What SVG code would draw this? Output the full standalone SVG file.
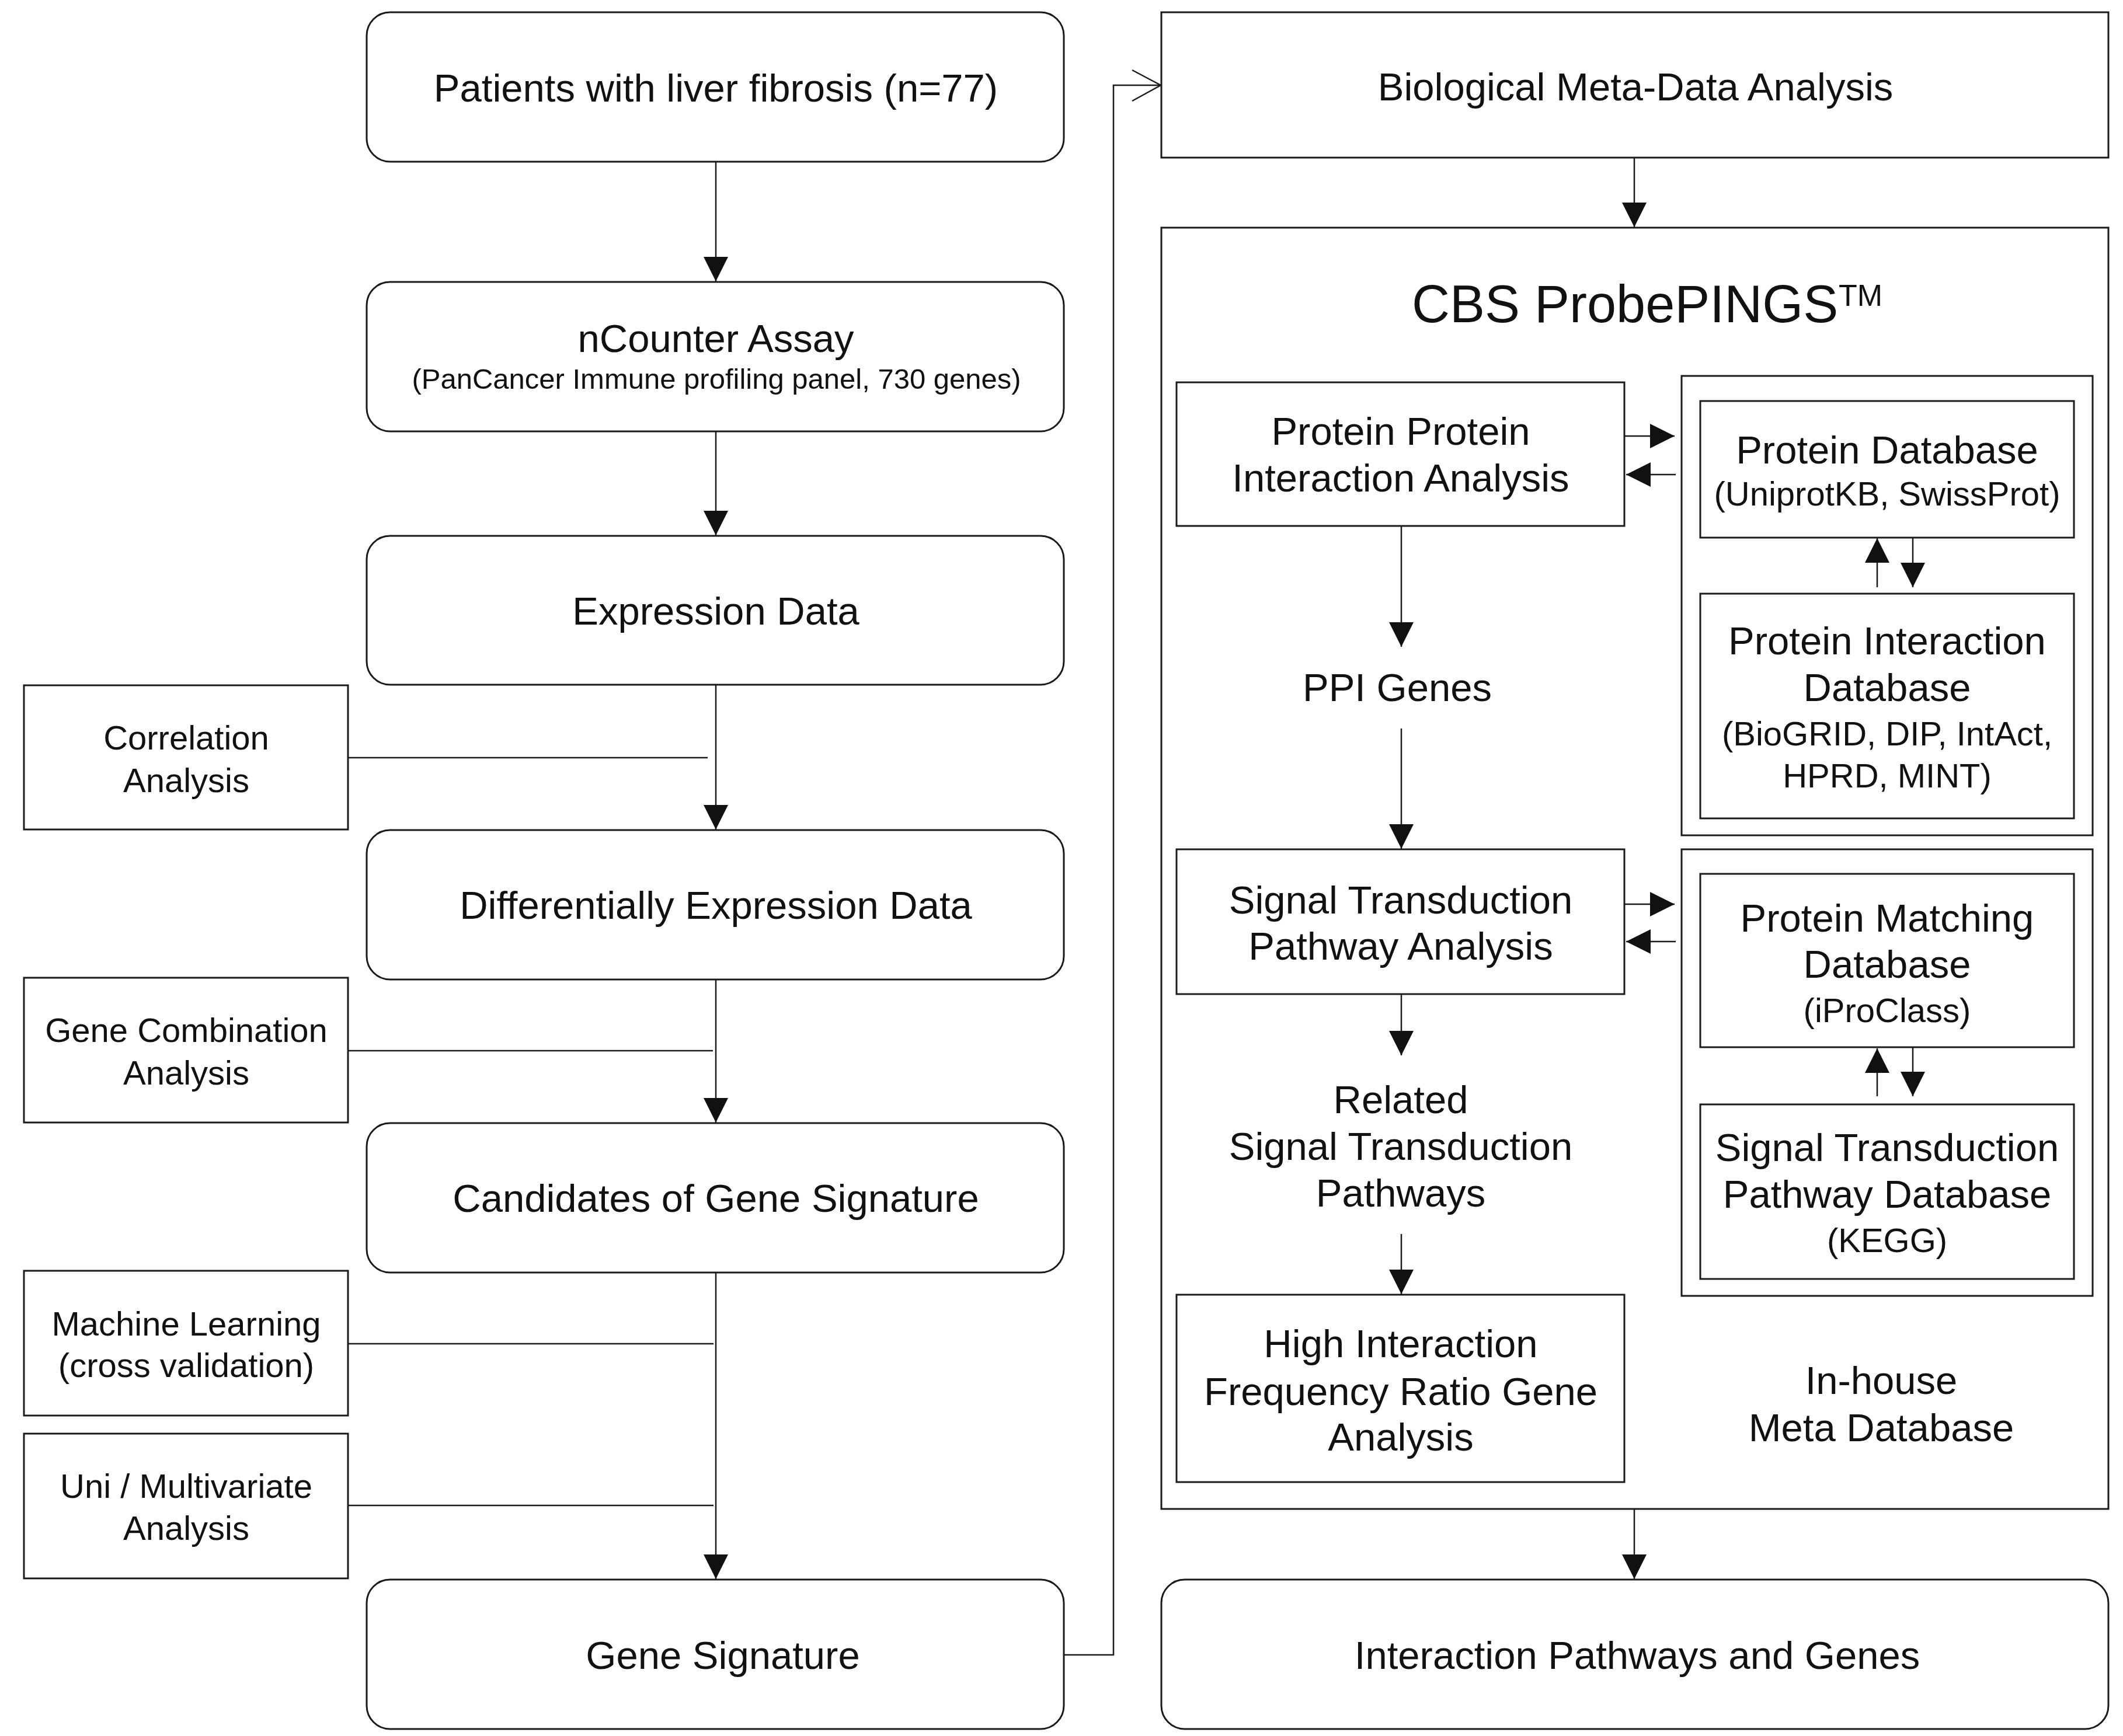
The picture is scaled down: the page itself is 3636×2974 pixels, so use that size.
<svg xmlns="http://www.w3.org/2000/svg" width="3636" height="2974" viewBox="0 0 3636 2974">
<style>
  .bx { fill: #ffffff; stroke: #1a1a1a; stroke-width: 3; }
  .ln { fill: none; stroke: #1a1a1a; stroke-width: 2.5; }
  .ar { fill: none; stroke: #1a1a1a; stroke-width: 2.5; marker-end: url(#ah); }
  text { font-family: "Liberation Sans", Arial, "Noto Sans", sans-serif; fill: #111111; text-anchor: middle; }
  .t { font-size: 67px; }
  .s { font-size: 58px; }
  .xs { font-size: 49px; }
  .title { font-size: 90px; text-anchor: start; }
  .tm { font-size: 52px; text-anchor: start; }
</style>
<defs>
  <marker id="ah" viewBox="0 0 42 44" refX="42" refY="22" markerWidth="42" markerHeight="44" markerUnits="userSpaceOnUse" orient="auto">
    <path d="M0,1 L42,22 L0,43 Z" fill="#111111"/>
  </marker>
</defs>
<rect width="3636" height="2974" fill="#ffffff"/>

<!-- Left column -->
<g id="patients">
  <rect class="bx" x="628" y="21" width="1194" height="256" rx="40" ry="40"/>
  <text class="t" x="1226" y="174">Patients with liver fibrosis (n=77)</text>
</g>
<g id="ncounter">
  <rect class="bx" x="628" y="483" width="1194" height="256" rx="40" ry="40"/>
  <text class="t" x="1226" y="603">nCounter Assay</text>
  <text class="xs" x="1227" y="666">(PanCancer Immune profiling panel, 730 genes)</text>
</g>
<g id="expression">
  <rect class="bx" x="628" y="918" width="1194" height="255" rx="40" ry="40"/>
  <text class="t" x="1226" y="1070">Expression Data</text>
</g>
<g id="differential">
  <rect class="bx" x="628" y="1422" width="1194" height="256" rx="40" ry="40"/>
  <text class="t" x="1226" y="1574">Differentially Expression Data</text>
</g>
<g id="candidates">
  <rect class="bx" x="628" y="1924" width="1194" height="256" rx="40" ry="40"/>
  <text class="t" x="1226" y="2076">Candidates of Gene Signature</text>
</g>
<g id="gene-signature">
  <rect class="bx" x="628" y="2706" width="1194" height="256" rx="40" ry="40"/>
  <text class="t" x="1238" y="2859">Gene Signature</text>
</g>
<g id="correlation">
  <rect class="bx" x="41" y="1174" width="555" height="247"/>
  <text class="s" x="319" y="1284">Correlation</text>
  <text class="s" x="319" y="1357">Analysis</text>
</g>
<g id="gene-combination">
  <rect class="bx" x="41" y="1675" width="555" height="248"/>
  <text class="s" x="319" y="1785">Gene Combination</text>
  <text class="s" x="319" y="1858">Analysis</text>
</g>
<g id="machine-learning">
  <rect class="bx" x="41" y="2177" width="555" height="248"/>
  <text class="s" x="319" y="2288">Machine Learning</text>
  <text class="s" x="319" y="2359">(cross validation)</text>
</g>
<g id="uni-multivariate">
  <rect class="bx" x="41" y="2456" width="555" height="248"/>
  <text class="s" x="319" y="2566">Uni / Multivariate</text>
  <text class="s" x="319" y="2638">Analysis</text>
</g>

<!-- Right column -->
<g id="biological">
  <rect class="bx" x="1989" y="21" width="1622" height="249"/>
  <text class="t" x="2801" y="172">Biological Meta-Data Analysis</text>
</g>
<g id="cbs-probepings">
  <rect class="bx" x="1989" y="390" width="1622" height="2195"/>
  <text class="title" x="2418" y="552">CBS ProbePINGS</text>
  <text class="tm" x="3149" y="524">TM</text>
  <text class="t" x="3222" y="2388">In-house</text>
  <text class="t" x="3222" y="2469">Meta Database</text>
</g>
<g id="db-group-1">
  <rect class="bx" x="2880" y="644" width="704" height="787"/>
</g>
<g id="db-group-2">
  <rect class="bx" x="2880" y="1455" width="704" height="765"/>
</g>
<g id="ppi-analysis">
  <rect class="bx" x="2015" y="655" width="767" height="246"/>
  <text class="t" x="2399" y="762">Protein Protein</text>
  <text class="t" x="2399" y="842">Interaction Analysis</text>
</g>
<g id="ppi-genes">
  <text class="t" x="2393" y="1201">PPI Genes</text>
</g>
<g id="stp-analysis">
  <rect class="bx" x="2015" y="1455" width="767" height="248"/>
  <text class="t" x="2399" y="1565">Signal Transduction</text>
  <text class="t" x="2399" y="1644">Pathway Analysis</text>
</g>
<g id="related-pathways">
  <text class="t" x="2399" y="1907">Related</text>
  <text class="t" x="2399" y="1987">Signal Transduction</text>
  <text class="t" x="2399" y="2067">Pathways</text>
</g>
<g id="high-interaction">
  <rect class="bx" x="2015" y="2218" width="767" height="321"/>
  <text class="t" x="2399" y="2325">High Interaction</text>
  <text class="t" x="2399" y="2407">Frequency Ratio Gene</text>
  <text class="t" x="2399" y="2485">Analysis</text>
</g>
<g id="protein-db">
  <rect class="bx" x="2912" y="687" width="640" height="234"/>
  <text class="t" x="3232" y="794">Protein Database</text>
  <text class="s" x="3232" y="866">(UniprotKB, SwissProt)</text>
</g>
<g id="protein-interaction-db">
  <rect class="bx" x="2912" y="1017" width="640" height="385"/>
  <text class="t" x="3232" y="1121">Protein Interaction</text>
  <text class="t" x="3232" y="1201">Database</text>
  <text class="s" x="3232" y="1277">(BioGRID, DIP, IntAct,</text>
  <text class="s" x="3232" y="1349">HPRD, MINT)</text>
</g>
<g id="protein-matching-db">
  <rect class="bx" x="2912" y="1497" width="640" height="297"/>
  <text class="t" x="3232" y="1596">Protein Matching</text>
  <text class="t" x="3232" y="1675">Database</text>
  <text class="s" x="3232" y="1751">(iProClass)</text>
</g>
<g id="stp-db">
  <rect class="bx" x="2912" y="1892" width="640" height="299"/>
  <text class="t" x="3232" y="1989">Signal Transduction</text>
  <text class="t" x="3232" y="2069">Pathway Database</text>
  <text class="s" x="3232" y="2145">(KEGG)</text>
</g>
<g id="interaction-pathways">
  <rect class="bx" x="1989" y="2706" width="1622" height="256" rx="40" ry="40"/>
  <text class="t" x="2804" y="2859">Interaction Pathways and Genes</text>
</g>

<!-- Connectors (drawn last so container fills do not hide them) -->
<g id="connectors">
  <line class="ar" x1="1226" y1="277" x2="1226" y2="482"/>
  <line class="ar" x1="1226" y1="739" x2="1226" y2="917"/>
  <line class="ar" x1="1226" y1="1173" x2="1226" y2="1421"/>
  <line class="ln" x1="596" y1="1298" x2="1212" y2="1298"/>
  <line class="ar" x1="1226" y1="1678" x2="1226" y2="1923"/>
  <line class="ln" x1="596" y1="1800" x2="1221" y2="1800"/>
  <line class="ar" x1="1226" y1="2180" x2="1226" y2="2705"/>
  <line class="ln" x1="596" y1="2302" x2="1222" y2="2302"/>
  <line class="ln" x1="596" y1="2579" x2="1222" y2="2579"/>
  <polyline class="ln" points="1822,2835 1907,2835 1907,146 1988,146"/>
  <polyline class="ln" points="1939,120 1988,146 1939,173"/>
  <line class="ar" x1="2799" y1="270" x2="2799" y2="389"/>
  <line class="ar" x1="2783" y1="747" x2="2868" y2="747"/>
  <line class="ar" x1="2870" y1="813" x2="2785" y2="813"/>
  <line class="ar" x1="3215" y1="1006" x2="3215" y2="922"/>
  <line class="ar" x1="3276" y1="921" x2="3276" y2="1006"/>
  <line class="ar" x1="2400" y1="901" x2="2400" y2="1108"/>
  <line class="ar" x1="2400" y1="1248" x2="2400" y2="1454"/>
  <line class="ar" x1="2783" y1="1549" x2="2868" y2="1549"/>
  <line class="ar" x1="2870" y1="1613" x2="2785" y2="1613"/>
  <line class="ar" x1="3215" y1="1878" x2="3215" y2="1796"/>
  <line class="ar" x1="3276" y1="1795" x2="3276" y2="1878"/>
  <line class="ar" x1="2400" y1="1703" x2="2400" y2="1808"/>
  <line class="ar" x1="2400" y1="2114" x2="2400" y2="2217"/>
  <line class="ar" x1="2799" y1="2585" x2="2799" y2="2705"/>
</g>
</svg>
